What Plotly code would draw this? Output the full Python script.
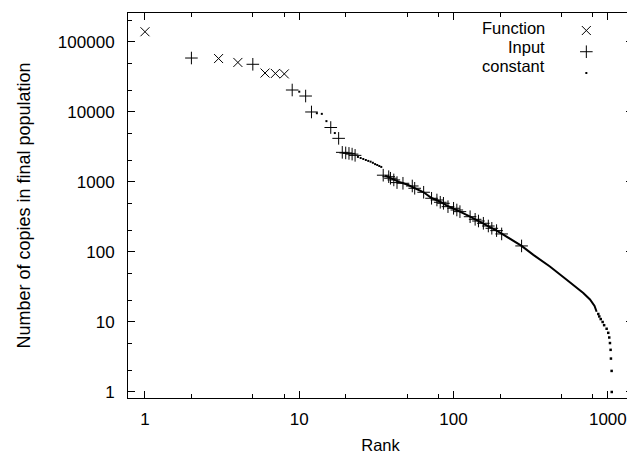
import plotly.graph_objects as go

# ---------------- data ----------------
function_rank = [1, 3, 4, 6, 7, 8]
function_count = [140000, 58000, 51000, 36000, 35500, 35000]

input_rank = [2, 5, 9, 11, 12, 16, 18, 19, 20, 21, 22, 23,
              35, 38, 39, 41, 43, 47, 54, 56, 64, 72, 78, 82, 86, 92,
              100, 105, 110, 128, 138, 145, 156, 168, 177, 190, 205, 276]
input_count = [59000, 48000, 20600, 16900, 10000, 6000, 4200, 2650, 2600, 2560, 2500, 2400,
               1250, 1190, 1130, 1070, 980, 958, 877, 813, 713, 585, 553, 513, 496, 444,
               421, 398, 377, 319, 293, 277, 257, 235, 218, 202, 181, 122]

# constant: sparse part (individual dots)
const_rank_sparse = [10, 13, 14, 15, 17, 24, 25, 26, 27, 28, 29, 30, 31, 32, 33, 34]
const_count_sparse = [19500, 9600, 9400, 7400, 5000, 2280, 2200, 2130, 2060, 2000, 1950,
                      1880, 1800, 1750, 1690, 1640]

# constant: dense part
const_rank_dense = [36, 40, 45, 50, 56, 64, 72, 80, 90, 100, 110, 128, 145, 160, 176,
                    190, 205, 240, 276, 329, 421, 541, 693, 766, 820, 846]
const_count_dense = [1230, 1100, 990, 920, 820, 713, 590, 535, 462, 420, 377, 319, 277,
                     250, 220, 202, 183, 148, 122, 91, 62, 40, 26, 21, 17, 14]

# constant: tail (integer counts)
const_rank_tail = [867, 880, 899, 925, 946, 982, 1006, 1021, 1032, 1042, 1047, 1058, 1060]
const_count_tail = [13, 12, 11, 10, 9, 8, 7, 6, 5, 4, 3, 2, 1]

x_ticks = [1, 10, 100, 1000]
x_tick_text = ["1", "10", "100", "1000"]
y_ticks = [1, 10, 100, 1000, 10000, 100000]
y_tick_text = ["1", "10", "100", "1000", "10000", "100000"]
x_minor = [m * d for d in [1, 10, 100, 1000] for m in (2, 5, 8)]
y_minor = [m * d for d in [1, 10, 100, 1000, 10000, 100000] for m in (2, 5)]

legend_labels = ["Function", "Input", "constant"]

# ---------------- figure ----------------
FONT = "Liberation Sans, Arial, Helvetica, sans-serif"
fig = go.Figure()

fig.add_trace(go.Scatter(
    x=const_rank_dense, y=const_count_dense, mode="lines",
    line=dict(color="black", width=2), showlegend=False, hoverinfo="skip"))
fig.add_trace(go.Scatter(
    x=const_rank_tail, y=const_count_tail, mode="markers",
    marker=dict(symbol="square", size=2.5, color="black", line=dict(width=0)),
    showlegend=False))

fig.add_trace(go.Scatter(
    x=function_rank, y=function_count, mode="markers", name="",
    marker=dict(symbol="x-thin", size=9, line=dict(color="black", width=1))))
fig.add_trace(go.Scatter(
    x=input_rank, y=input_count, mode="markers", name=" ",
    marker=dict(symbol="cross-thin", size=9, line=dict(color="black", width=1))))
fig.add_trace(go.Scatter(
    x=const_rank_sparse, y=const_count_sparse, mode="markers", name="  ",
    marker=dict(symbol="square", size=2, color="black", line=dict(width=0))))

axis_common = dict(
    type="log", showgrid=False, zeroline=False, automargin=False,
    showline=True, linecolor="black", linewidth=1, mirror="ticks",
    ticks="inside", ticklen=7, tickcolor="black", tickwidth=1,
    tickfont=dict(family=FONT, size=17, color="black"),
    tickmode="array",
)

fig.update_xaxes(
    **axis_common,
    range=[-0.110, 3.163], ticklabelstandoff=6,
    tickvals=x_ticks, ticktext=x_tick_text,
    minor=dict(tickmode="array", tickvals=x_minor, ticks="inside", ticklen=4,
               tickcolor="black", tickwidth=1, showgrid=False),
    title=dict(text="Rank", font=dict(family=FONT, size=16.5, color="black"), standoff=16),
)
fig.update_yaxes(
    **axis_common,
    range=[-0.086, 5.414], ticklabelstandoff=9,
    tickvals=y_ticks, ticktext=y_tick_text,
    minor=dict(tickmode="array", tickvals=y_minor, ticks="inside", ticklen=4,
               tickcolor="black", tickwidth=1, showgrid=False),
    title=dict(text="Number of copies in final population",
               font=dict(family=FONT, size=18, color="black"), standoff=22),
)

# legend labels (right-aligned, gnuplot style: text then sample)
row_y = [0.961, 0.912, 0.863]
for lab, yy in zip(legend_labels, row_y):
    fig.add_annotation(text=lab, xref="paper", yref="paper", x=0.830, y=yy,
                       xanchor="right", yanchor="middle", showarrow=False,
                       font=dict(family=FONT, size=16.5, color="black"))

# page body has an 8px margin: figure is sized/offset so the plot lands where it should
fig.update_layout(
    width=627, height=446,
    margin=dict(l=120, r=2, t=5, b=56),
    paper_bgcolor="white", plot_bgcolor="white",
    font=dict(family=FONT, size=17, color="black"),
    legend=dict(x=0.868, y=0.995, xanchor="left", yanchor="top",
                bgcolor="rgba(0,0,0,0)", borderwidth=0,
                font=dict(family=FONT, size=14), tracegroupgap=0,
                itemwidth=30),
)

fig.write_html("out.html")
